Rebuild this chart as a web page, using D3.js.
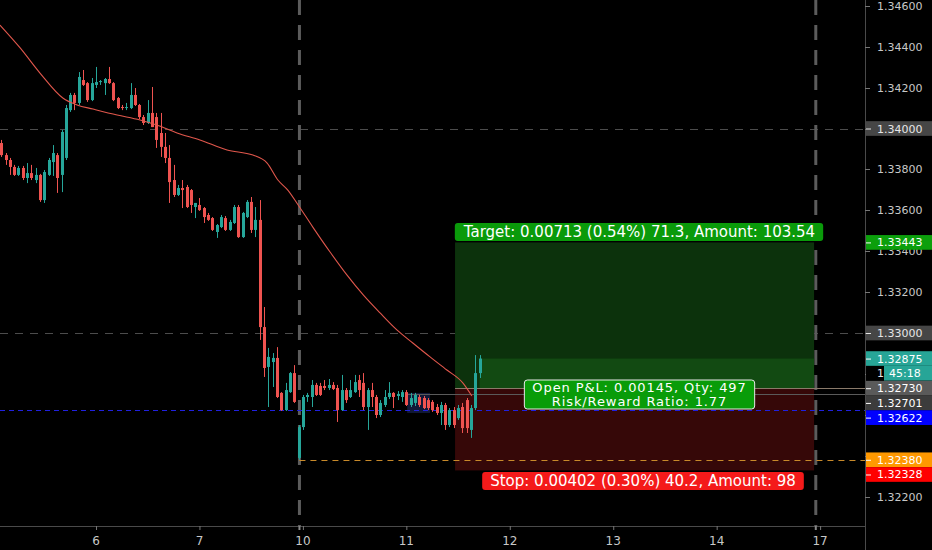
<!DOCTYPE html>
<html>
<head>
<meta charset="utf-8">
<script src="https://cdn.jsdelivr.net/npm/d3@7"></script>
<style>
  html, body { margin: 0; padding: 0; background: #000; }
  svg { display: block; font-family: "DejaVu Sans", Verdana, sans-serif; }
</style>
</head>
<body>
<svg id="chart" width="932" height="550"></svg>
<script>
// Hourly bars, oldest first
const openPrices = [
  1.33929,1.33870,1.33846,1.33812,1.33773,1.33807,1.33758,1.33782,1.33748,1.33773,
  1.33650,1.33773,1.33836,1.33870,1.33773,1.33856,1.34090,1.34164,1.34125,1.34237,
  1.34222,1.34139,1.34213,1.34227,1.34222,1.34242,1.34222,1.34149,1.34105,1.34100,
  1.34100,1.34164,1.34115,1.34056,1.34027,1.34076,1.34056,1.33978,1.33910,1.33856,
  1.33748,1.33675,1.33709,1.33714,1.33699,1.33616,1.33626,1.33611,1.33577,1.33562,
  1.33494,1.33518,1.33562,1.33504,1.33538,1.33616,1.33469,1.33567,1.33641,1.33504,
  1.33553,1.33029,1.32834,1.32858,1.32878,1.32707,1.32623,1.32711,1.32804,1.32389,
  1.32540,1.32687,1.32687,1.32746,1.32741,1.32741,1.32731,1.32746,1.32731,1.32623,
  1.32721,1.32687,1.32711,1.32770,1.32756,1.32638,1.32721,1.32687,1.32599,1.32648,
  1.32687,1.32707,1.32692,1.32687,1.32711,1.32648,1.32658,1.32687,1.32682,1.32672,
  1.32663,1.32638,1.32609,1.32648,1.32550,1.32623,1.32584,1.32638,1.32672,1.32526,
  1.32633,1.32804
];
const highPrices = [
  1.33944,1.33880,1.33856,1.33822,1.33817,1.33817,1.33831,1.33822,1.33807,1.33778,
  1.33797,1.33856,1.33919,1.33880,1.33993,1.34115,1.34174,1.34174,1.34276,1.34286,
  1.34227,1.34247,1.34301,1.34237,1.34247,1.34301,1.34227,1.34154,1.34115,1.34125,
  1.34222,1.34198,1.34120,1.34066,1.34139,1.34203,1.34076,1.34076,1.33978,1.33919,
  1.33822,1.33724,1.33748,1.33724,1.33704,1.33636,1.33660,1.33616,1.33587,1.33567,
  1.33533,1.33577,1.33572,1.33553,1.33626,1.33626,1.33592,1.33650,1.33665,1.33616,
  1.33650,1.33127,1.32927,1.32902,1.32931,1.32711,1.32756,1.32809,1.32843,1.32550,
  1.32697,1.32707,1.32770,1.32756,1.32756,1.32770,1.32775,1.32760,1.32746,1.32795,
  1.32731,1.32770,1.32795,1.32795,1.32804,1.32731,1.32756,1.32697,1.32672,1.32721,
  1.32760,1.32711,1.32716,1.32721,1.32721,1.32707,1.32707,1.32697,1.32692,1.32682,
  1.32672,1.32653,1.32663,1.32658,1.32633,1.32638,1.32648,1.32658,1.32682,1.32648,
  1.32892,1.32892
];
const lowPrices = [
  1.33861,1.33822,1.33773,1.33768,1.33768,1.33748,1.33733,1.33748,1.33733,1.33641,
  1.33636,1.33768,1.33768,1.33685,1.33689,1.33846,1.34081,1.34090,1.34115,1.34208,
  1.34130,1.34134,1.34198,1.34213,1.34164,1.34218,1.34134,1.34095,1.34090,1.34090,
  1.34095,1.34110,1.34046,1.34017,1.34022,1.34007,1.33905,1.33861,1.33831,1.33636,
  1.33665,1.33670,1.33611,1.33611,1.33587,1.33562,1.33597,1.33538,1.33548,1.33499,
  1.33465,1.33513,1.33499,1.33499,1.33533,1.33465,1.33465,1.33562,1.33489,1.33469,
  1.32966,1.32785,1.32638,1.32736,1.32682,1.32619,1.32619,1.32707,1.32658,1.32380,
  1.32526,1.32663,1.32638,1.32692,1.32692,1.32721,1.32721,1.32721,1.32565,1.32619,
  1.32658,1.32682,1.32707,1.32687,1.32623,1.32526,1.32638,1.32584,1.32589,1.32638,
  1.32677,1.32633,1.32672,1.32663,1.32643,1.32638,1.32643,1.32638,1.32628,1.32623,
  1.32614,1.32599,1.32550,1.32526,1.32540,1.32535,1.32575,1.32511,1.32511,1.32487,
  1.32623,1.32780
];
const closePrices = [
  1.33870,1.33846,1.33812,1.33773,1.33807,1.33758,1.33782,1.33758,1.33773,1.33650,
  1.33787,1.33846,1.33880,1.33758,1.33983,1.34100,1.34164,1.34125,1.34252,1.34213,
  1.34139,1.34222,1.34227,1.34232,1.34242,1.34222,1.34139,1.34100,1.34100,1.34105,
  1.34164,1.34115,1.34056,1.34027,1.34076,1.34007,1.33944,1.33910,1.33856,1.33738,
  1.33675,1.33709,1.33699,1.33616,1.33626,1.33636,1.33601,1.33567,1.33553,1.33504,
  1.33528,1.33567,1.33504,1.33543,1.33616,1.33469,1.33587,1.33641,1.33504,1.33553,
  1.33029,1.32829,1.32883,1.32878,1.32687,1.32623,1.32721,1.32804,1.32663,1.32540,
  1.32687,1.32697,1.32746,1.32697,1.32697,1.32731,1.32746,1.32726,1.32623,1.32721,
  1.32672,1.32721,1.32760,1.32721,1.32638,1.32721,1.32687,1.32599,1.32658,1.32687,
  1.32707,1.32687,1.32702,1.32711,1.32648,1.32682,1.32697,1.32648,1.32633,1.32633,
  1.32623,1.32609,1.32648,1.32550,1.32623,1.32550,1.32633,1.32535,1.32535,1.32633,
  1.32804,1.32875
];

// Moving average, read at selected bars
const maBars   = [-0.3, 4.4, 9, 14.3, 17.6, 21.3, 26.9, 32.2, 36.1, 40.8, 46.1, 52.4, 58.4, 61.7,
                  64.2, 66.5, 68.9, 72.3, 76.3, 80.2, 84, 87.9, 91.8, 95.5, 99.5, 103.4, 107.1, 109.2];
const maValues = [1.34506, 1.34394, 1.34271, 1.34149, 1.34115, 1.34095, 1.34066, 1.34042, 1.34017,
                  1.33978, 1.33944, 1.33895, 1.33870, 1.33831, 1.33748, 1.33699, 1.33626, 1.33518,
                  1.33396, 1.33284, 1.33186, 1.33098, 1.33015, 1.32951, 1.32883, 1.32819, 1.32756, 1.32692];

// Time axis
const dayLabels = ["6", "7", "10", "11", "12", "13", "14", "17"];
const dayBars   = [22, 46, 70, 94, 118, 142, 166, 190];
const weekBreakBars = [69.2, 189];

// Price axis
const priceTicks = [1.346, 1.344, 1.342, 1.340, 1.338, 1.336, 1.334, 1.332, 1.330, 1.328, 1.326, 1.324, 1.322];

// Long position tool
const entryPrice = 1.32730, targetPrice = 1.33443, stopPrice = 1.32328, lastPrice = 1.32875;
const positionBars = [105.3, 188.6];
const targetText = "Target: 0.00713 (0.54%) 71.3, Amount: 103.54";
const stopText = "Stop: 0.00402 (0.30%) 40.2, Amount: 98";
const pnlText = ["Open P&L: 0.00145, Qty: 497", "Risk/Reward Ratio: 1.77"];

// Horizontal levels
const roundLevels = [1.34000, 1.33000];
const blueLevel = 1.32622, orangeLevel = 1.32380, greyLevel = 1.32701;
const blueZoneBars = [94.2, 99.5], blueZonePrices = [1.32707, 1.32609];
const countdownText = "45:18";

const W = 932, H = 550, plotRight = 865, plotBottom = 526;
const svg = d3.select("#chart");
svg.append("rect").attr("width", W).attr("height", H).attr("fill", "#000");

const x = d3.scaleLinear().domain([0, 1]).range([1.2, 5.51]);
const y = d3.scaleLinear().domain([1.34, 1.33]).range([128.5, 333]);

const plot = svg.append("g");
plot.append("clipPath").attr("id", "clip")
  .append("rect").attr("x", 0).attr("y", 0).attr("width", plotRight).attr("height", plotBottom);
const g = plot.append("g").attr("clip-path", "url(#clip)");

// Round-number levels
g.selectAll("line.round").data(roundLevels).join("line")
  .attr("x1", 0).attr("x2", plotRight)
  .attr("y1", d => Math.round(y(d)) + 0.5).attr("y2", d => Math.round(y(d)) + 0.5)
  .attr("stroke", "#4c4c4c").attr("stroke-width", 1).attr("stroke-dasharray", "8,7");

// Week separators
g.selectAll("line.week").data(weekBreakBars).join("line")
  .attr("x1", d => x(d)).attr("x2", d => x(d))
  .attr("y1", 0).attr("y2", plotBottom)
  .attr("stroke", "#5c5c5c").attr("stroke-width", 3).attr("stroke-dasharray", "15,10");

// Position tool areas
const lastBar = openPrices.length - 1;
const px0 = x(positionBars[0]), px1 = x(positionBars[1]);
g.append("rect").attr("x", px0).attr("width", px1 - px0)
  .attr("y", y(targetPrice)).attr("height", y(entryPrice) - y(targetPrice))
  .attr("fill", "#0c320c");
g.append("rect").attr("x", px0).attr("width", px1 - px0)
  .attr("y", y(entryPrice)).attr("height", y(stopPrice) - y(entryPrice))
  .attr("fill", "#360808");
g.append("rect").attr("x", x(lastBar)).attr("width", px1 - x(lastBar))
  .attr("y", y(lastPrice)).attr("height", y(entryPrice) - y(lastPrice))
  .attr("fill", "#124a12");

// Highlighted price zone
g.append("rect").attr("x", x(blueZoneBars[0])).attr("width", x(blueZoneBars[1]) - x(blueZoneBars[0]))
  .attr("y", y(blueZonePrices[0])).attr("height", y(blueZonePrices[1]) - y(blueZonePrices[0]))
  .attr("fill", "rgba(60,90,200,0.28)");

// Level lines
g.append("line").attr("x1", x(blueZoneBars[0])).attr("x2", plotRight)
  .attr("y1", Math.round(y(greyLevel)) + 0.5).attr("y2", Math.round(y(greyLevel)) + 0.5)
  .attr("stroke", "#5a5a5a").attr("stroke-width", 1);
g.append("line").attr("x1", px0).attr("x2", plotRight)
  .attr("y1", Math.round(y(entryPrice)) + 0.5).attr("y2", Math.round(y(entryPrice)) + 0.5)
  .attr("stroke", "#8a7a6a").attr("stroke-width", 1);
g.append("line").attr("x1", 0).attr("x2", plotRight)
  .attr("y1", Math.round(y(blueLevel)) + 0.5).attr("y2", Math.round(y(blueLevel)) + 0.5)
  .attr("stroke", "#2020e0").attr("stroke-width", 1).attr("stroke-dasharray", "5,4");
g.append("line").attr("x1", x(weekBreakBars[0])).attr("x2", plotRight)
  .attr("y1", Math.round(y(orangeLevel)) + 0.5).attr("y2", Math.round(y(orangeLevel)) + 0.5)
  .attr("stroke", "#c98a2a").attr("stroke-width", 1).attr("stroke-dasharray", "6,5");

// Candles
const bars = openPrices.map((o, i) => ({ i, o, h: highPrices[i], l: lowPrices[i], c: closePrices[i] }));
const up = "#26a69a", down = "#ef5350";
const cg = g.append("g");
cg.selectAll("line").data(bars).join("line")
  .attr("x1", d => Math.round(x(d.i)) + 0.5).attr("x2", d => Math.round(x(d.i)) + 0.5)
  .attr("y1", d => y(d.h)).attr("y2", d => y(d.l))
  .attr("stroke", d => d.c >= d.o ? up : down).attr("stroke-width", 1);
cg.selectAll("rect").data(bars).join("rect")
  .attr("x", d => Math.round(x(d.i)) - 1).attr("width", 3)
  .attr("y", d => Math.min(y(d.o), y(d.c)))
  .attr("height", d => Math.max(1, Math.abs(y(d.o) - y(d.c))))
  .attr("fill", d => d.c >= d.o ? up : down);

// Moving average
g.append("path").datum(maBars.map((b, k) => [b, maValues[k]]))
  .attr("d", d3.line().x(d => x(d[0])).y(d => y(d[1])).curve(d3.curveMonotoneX))
  .attr("fill", "none").attr("stroke", "#e0574c").attr("stroke-width", 1.1);

// Position labels
function pill(cx, cy, lines, fill, opts) {
  const o = Object.assign({ fs: 15, lh: 14, h: 18, ls: 0, stroke: "none" }, opts || {});
  const grp = svg.append("g");
  const t = grp.append("text").attr("fill", "#fff").attr("font-size", o.fs)
    .attr("letter-spacing", o.ls).attr("text-anchor", "middle");
  lines.forEach((s, k) => {
    t.append("tspan").attr("x", cx).attr("y", cy + (k - (lines.length - 1) / 2) * o.lh + o.fs * 0.36).text(s);
  });
  const bb = t.node().getBBox();
  grp.insert("rect", "text")
    .attr("x", bb.x - 8).attr("y", cy - o.h / 2)
    .attr("width", bb.width + 16).attr("height", o.h)
    .attr("rx", 3).attr("fill", fill)
    .attr("stroke", o.stroke).attr("stroke-width", 1);
}
pill(639.5, 232, [targetText], "#0a9a0a");
pill(643, 481, [stopText], "#f41a1a");
pill(639.5, 394.5, pnlText, "#099c09", { fs: 13, lh: 13.5, h: 29, ls: 0.9, stroke: "#e8e8e8" });

// Axes frame
svg.append("line").attr("x1", plotRight + 0.5).attr("x2", plotRight + 0.5).attr("y1", 0).attr("y2", H)
  .attr("stroke", "#4a4a4a");
svg.append("line").attr("x1", 0).attr("x2", plotRight).attr("y1", plotBottom + 0.5).attr("y2", plotBottom + 0.5)
  .attr("stroke", "#4a4a4a");

// Price labels on the axis, stacked so they never overlap
const LH = 14.7;
const tags = [
  { p: 1.34000, fill: "#464646", color: "#e6e6e6" },
  { p: targetPrice, fill: "#0c9f0c", color: "#fff" },
  { p: 1.33000, fill: "#464646", color: "#e6e6e6" },
  { p: lastPrice, fill: "#27a597", color: "#fff" },
  { p: null, countdown: true, fill: "#27a597", color: "#fff" },
  { p: entryPrice, fill: "#5a5a5a", color: "#fff" },
  { p: greyLevel, fill: "#3c3c3c", color: "#fff" },
  { p: blueLevel, fill: "#0000ff", color: "#fff" },
  { p: orangeLevel, fill: "#ff9800", color: "#fff" },
  { p: stopPrice, fill: "#ff0000", color: "#fff" }
];
let prev = -Infinity;
tags.forEach(t => {
  let cy = t.countdown ? prev + LH : y(t.p);
  if (cy < prev + LH) cy = prev + LH;
  t.cy = cy; prev = cy;
});

// Price axis ticks (text hidden where a price tag sits on top)
const ya = svg.append("g").attr("font-size", 11).attr("fill", "#c8c8c8");
priceTicks.forEach(p => {
  ya.append("line").attr("x1", plotRight).attr("x2", plotRight + 5)
    .attr("y1", Math.round(y(p)) + 0.5).attr("y2", Math.round(y(p)) + 0.5).attr("stroke", "#777");
  const covered = tags.some(t => Math.abs(t.cy - y(p)) < LH / 2 + 1);
  if (!covered) ya.append("text").attr("x", 877).attr("y", y(p) + 4).text(p.toFixed(5));
});

// Time axis
const xa = svg.append("g").attr("font-size", 12).attr("fill", "#c8c8c8").attr("text-anchor", "middle");
dayBars.forEach((b, k) => {
  xa.append("line").attr("x1", x(b) + 0.5).attr("x2", x(b) + 0.5).attr("y1", plotBottom).attr("y2", plotBottom + 4)
    .attr("stroke", "#777");
  xa.append("text").attr("x", x(b)).attr("y", 545).text(dayLabels[k]);
});
weekBreakBars.forEach(b => {
  xa.append("rect").attr("x", x(b) - 1).attr("y", plotBottom).attr("width", 2).attr("height", 4).attr("fill", "#888");
});

const la = svg.append("g").attr("font-size", 11);
tags.forEach(t => {
  if (t.countdown) {
    la.append("rect").attr("x", plotRight + 1).attr("y", t.cy - LH / 2).attr("width", W - plotRight).attr("height", LH).attr("fill", "#000");
    la.append("text").attr("x", 877).attr("y", t.cy + 4).attr("fill", "#e6e6e6").text("1");
    la.append("rect").attr("x", 884).attr("y", t.cy - LH / 2).attr("width", W - 884).attr("height", LH).attr("fill", t.fill);
    la.append("text").attr("x", 889).attr("y", t.cy + 4).attr("fill", t.color).text(countdownText);
    return;
  }
  la.append("rect").attr("x", plotRight + 1).attr("y", t.cy - LH / 2).attr("width", W - plotRight).attr("height", LH).attr("fill", t.fill);
  la.append("line").attr("x1", plotRight + 1).attr("x2", plotRight + 6).attr("y1", t.cy + 0.5).attr("y2", t.cy + 0.5).attr("stroke", t.color);
  la.append("text").attr("x", 877).attr("y", t.cy + 4).attr("fill", t.color).text(t.p.toFixed(5));
});
</script>
</body>
</html>
